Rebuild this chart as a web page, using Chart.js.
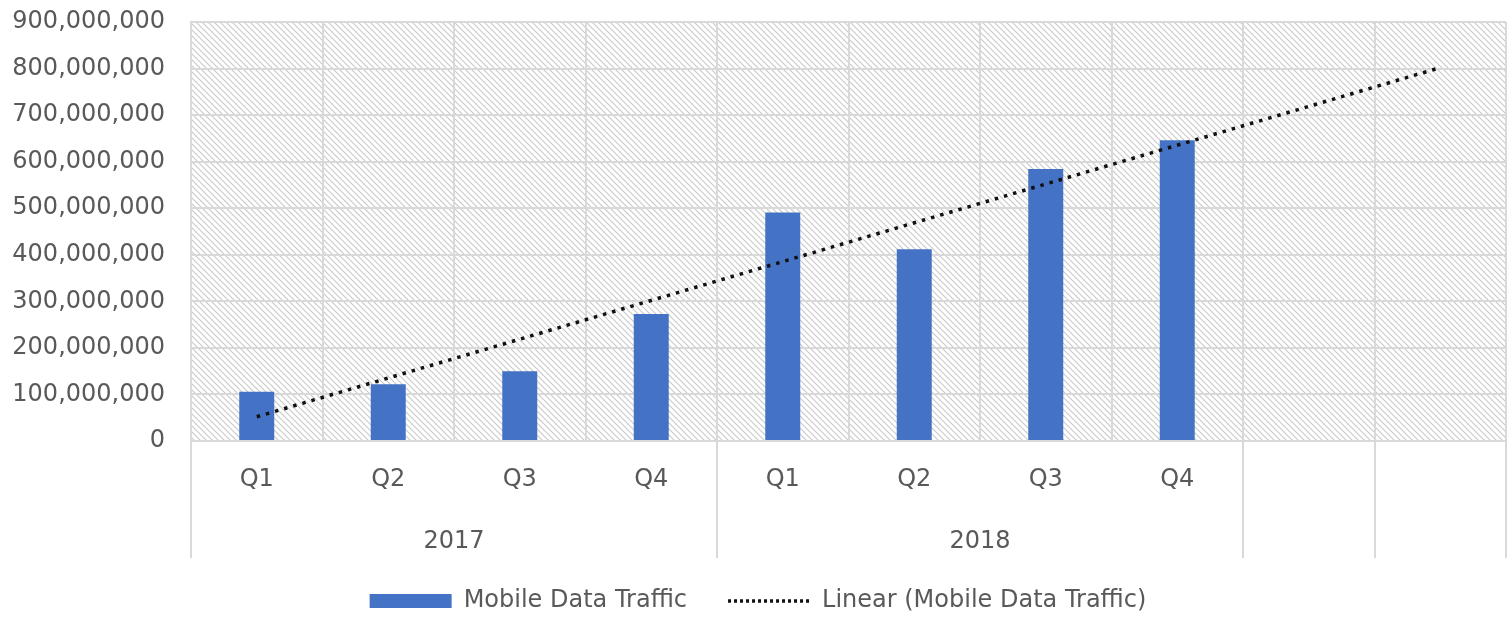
<!DOCTYPE html>
<html>
<head>
<meta charset="utf-8">
<title>Mobile Data Traffic</title>
<script src="https://cdn.jsdelivr.net/npm/chart.js@4"></script>
<style>
  html,body{margin:0;padding:0;background:#fff;}
</style>
</head>
<body>
<canvas id="myChart" width="1507" height="617"></canvas>
<script>
// data
var quarters=["Q1","Q2","Q3","Q4","Q1","Q2","Q3","Q4","",""];
// second level of the axis: one slot edge per entry, year sits on the middle edge of its group
var yearEdges=["","","2017","","","","2018","","","",""];
var dividers=[0,4,8,9,10];   // edges where the group lines run below the plot
var trafficValues=[106000000,122000000,150000000,273000000,491000000,412000000,584000000,646000000];
var trendValues=[52000000,null,null,null,null,null,null,null,null,802000000];

var textColor="#595959";
var gridColor="#d9d9d9";

Chart.defaults.font.family="'DejaVu Sans', sans-serif";
Chart.defaults.font.size=24;
Chart.defaults.color=textColor;

// diagonal hatch behind the plot
var hatchBg={
  id:"hatchBg",
  beforeDraw:function(chart){
    var a=chart.chartArea, ctx=chart.ctx;
    var tile=document.createElement("canvas");
    tile.width=6; tile.height=6;
    var t=tile.getContext("2d");
    t.strokeStyle="#c8c8c8"; t.lineWidth=1.1;
    t.beginPath();
    t.moveTo(0,0); t.lineTo(6,6);
    t.moveTo(-1,5); t.lineTo(1,7);
    t.moveTo(5,-1); t.lineTo(7,1);
    t.stroke();
    ctx.save();
    ctx.fillStyle=ctx.createPattern(tile,"repeat");
    ctx.fillRect(a.left,a.top,a.right-a.left,a.bottom-a.top);
    ctx.restore();
  }
};

// group lines of the two-level category axis
var axisDividers={
  id:"axisDividers",
  afterDraw:function(chart){
    var x2=chart.scales.x2, a=chart.chartArea, ctx=chart.ctx;
    ctx.save();
    ctx.strokeStyle=gridColor; ctx.lineWidth=2;
    ctx.beginPath();
    dividers.forEach(function(v){
      var px=Math.round(x2.getPixelForValue(v));
      if(px>=chart.width) px=chart.width-1;
      ctx.moveTo(px,a.bottom); ctx.lineTo(px,a.bottom+117);
    });
    ctx.stroke();
    ctx.restore();
  }
};

new Chart("myChart",{
  type:"bar",
  data:{
    labels:quarters,
    datasets:[{
      label:"Mobile Data Traffic",
      data:trafficValues,
      backgroundColor:"#4472C4",
      barPercentage:0.266,
      categoryPercentage:1,
      pointStyle:"rect",
      xAxisID:"x",
      order:1
    },{
      type:"line",
      label:"Linear (Mobile Data Traffic)",
      data:trendValues,
      borderColor:"#111",
      backgroundColor:"#111",
      borderWidth:3.5,
      borderDash:[3.5,6],
      pointRadius:0,
      pointStyle:"line",
      spanGaps:true,
      fill:false,
      xAxisID:"x",
      order:-1
    }]
  },
  options:{
    responsive:false,
    animation:false,
    layout:{padding:{top:22,left:10,right:1,bottom:-6}},
    plugins:{
      tooltip:{enabled:false},
      legend:{
        position:"bottom",
        labels:{
          usePointStyle:true,
          pointStyleWidth:82,
          boxHeight:14,
          padding:41,
          color:textColor,
          sort:function(a,b){return a.datasetIndex-b.datasetIndex;},
          generateLabels:function(chart){
            var items=Chart.defaults.plugins.legend.labels.generateLabels(chart);
            items.forEach(function(it){
              if(it.pointStyle==="line"){
                it.lineDash=[3,3];
                it.lineWidth=3.5;
                it.strokeStyle="#111";
              }
            });
            return items;
          }
        }
      }
    },
    scales:{
      x:{
        type:"category",
        position:"bottom",
        weight:0,
        offset:true,
        grid:{offset:true,color:gridColor,lineWidth:2,drawTicks:false},
        border:{color:gridColor,width:2},
        ticks:{color:textColor,padding:24,maxRotation:0,autoSkip:false},
        afterFit:function(s){s.height=60; s.paddingLeft=0; s.paddingRight=0;}
      },
      x2:{
        type:"category",
        position:"bottom",
        weight:1,
        labels:yearEdges,
        offset:false,
        grid:{display:false},
        border:{display:false},
        ticks:{color:textColor,padding:18,autoSkip:false,maxRotation:0},
        afterFit:function(s){s.height=47; s.paddingLeft=0; s.paddingRight=0;}
      },
      y:{
        min:0,
        max:900000000,
        grid:{color:gridColor,lineWidth:2,drawTicks:false},
        border:{color:gridColor,width:2},
        ticks:{
          stepSize:100000000,
          color:textColor,
          padding:26,
          callback:function(v){return v.toLocaleString("en-US");}
        },
        afterFit:function(s){s.width=181; s.paddingTop=0; s.paddingBottom=0;}
      }
    }
  },
  plugins:[hatchBg,axisDividers]
});
</script>
</body>
</html>
